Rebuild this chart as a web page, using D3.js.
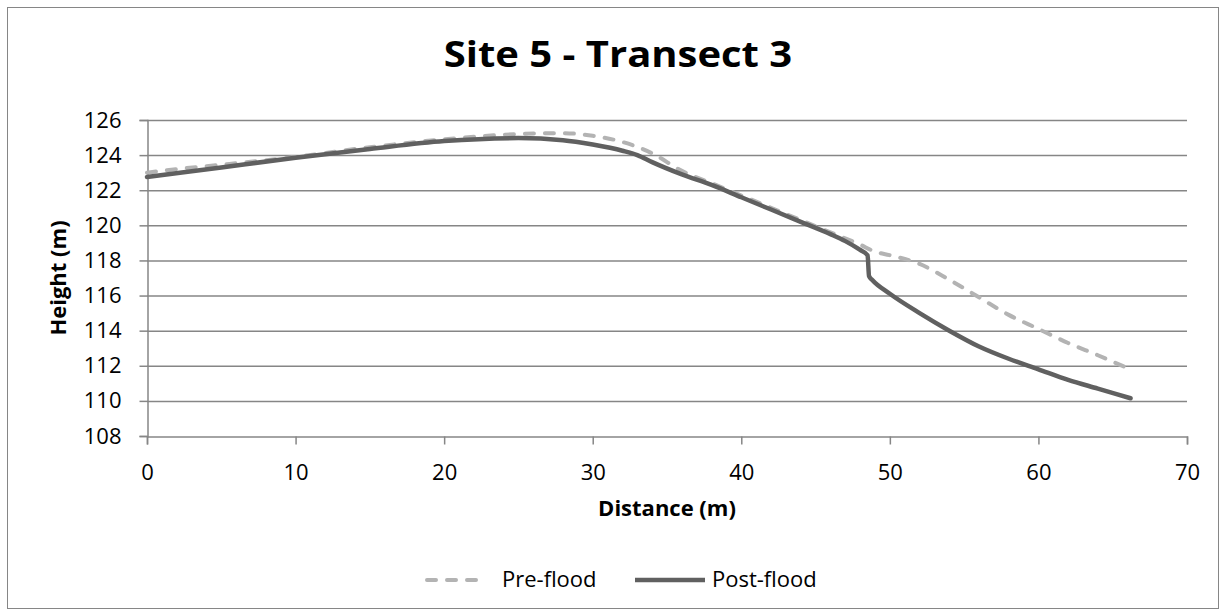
<!DOCTYPE html>
<html><head><meta charset="utf-8">
<script src="https://cdn.jsdelivr.net/npm/d3@7"></script>
<style>body{margin:0;background:#fff;}svg{display:block;font-family:"Open Sans",sans-serif;}</style>
</head><body>
<svg id="c" width="1226" height="616"></svg>
<script>
const title = "Site 5 - Transect 3";
const xLabel = "Distance (m)";
const yLabel = "Height (m)";
const seriesNames = ["Pre-flood", "Post-flood"];
const xTicks = [0,10,20,30,40,50,60,70];
const yTicks = [108,110,112,114,116,118,120,122,124,126];
const preDist = [0,2,5,10,15,20,25,28,30,32,34,36,38,40,42,44,46,48,49,50,52,54,56,58,60,62,64,65.9];
const preHeight = [123.0,123.2,123.45,123.9,124.45,124.9,125.2,125.25,125.1,124.75,124.1,123.1,122.4,121.7,121.0,120.3,119.6,118.9,118.5,118.3,117.8,116.9,115.9,114.9,114.1,113.3,112.6,111.9];
const postDist = [0,5,10,15,20,25,28,30,32,33,34,36,38,40,42,44,46,47,48,48.5,48.6,48.8,50,52,54,56,58,60,62,64,66.2];
const postHeight = [122.75,123.3,123.85,124.35,124.8,124.97,124.85,124.6,124.25,124.0,123.6,122.9,122.3,121.6,120.9,120.2,119.5,119.1,118.6,118.3,117.1,116.9,116.1,115.0,114.0,113.1,112.4,111.8,111.2,110.7,110.15];

const svg = d3.select("#c");
svg.append("rect").attr("x",7.5).attr("y",7.5).attr("width",1211).attr("height",601)
  .attr("fill","#fff").attr("stroke","#868686").attr("stroke-width",1);

const x = d3.scaleLinear().domain([0,70]).range([147,1187]);
const y = d3.scaleLinear().domain([108,126]).range([436,120]);

// gridlines
svg.append("g").selectAll("line").data(yTicks.filter(d=>d>108)).join("line")
  .attr("x1",x(0)).attr("x2",x(70)).attr("y1",d=>y(d)+0.5).attr("y2",d=>y(d)+0.5)
  .attr("stroke","#868686").attr("stroke-width",1.5);

const gx = svg.append("g").attr("transform",`translate(0,${y(108)+0.5})`)
  .call(d3.axisBottom(x).tickValues(xTicks).tickSize(8).tickPadding(20).tickFormat(d3.format("d")));
const gy = svg.append("g").attr("transform",`translate(${x(0)+0.5},0)`)
  .call(d3.axisLeft(y).tickValues(yTicks).tickSize(8).tickPadding(18).tickFormat(d3.format("d")));
[gx,gy].forEach(g=>{
  g.select(".domain").attr("stroke","#868686").attr("stroke-width",1.5);
  g.selectAll(".tick line").attr("stroke","#868686").attr("stroke-width",1.5);
  g.selectAll(".tick text").attr("font-family","Open Sans").attr("font-size",22).attr("fill","#000");
});

const line = d3.line().x(d=>x(d[0])).y(d=>y(d[1])).curve(d3.curveMonotoneX);
const pre = preDist.map((d,i)=>[d,preHeight[i]]);
const post = postDist.map((d,i)=>[d,postHeight[i]]);
svg.append("path").attr("d",line(pre)).attr("fill","none").attr("stroke","#b3b3b3")
  .attr("stroke-width",4).attr("stroke-dasharray","9,11").attr("stroke-linecap","round");
svg.append("path").attr("d",line(post)).attr("fill","none").attr("stroke","#606060")
  .attr("stroke-width",4.5).attr("stroke-linecap","round").attr("stroke-linejoin","round");

svg.append("text").attr("transform","translate(618,67) scale(1,0.88)").attr("text-anchor","middle")
  .attr("font-size",40).attr("font-weight","bold").text(title);
svg.append("text").attr("x",667).attr("y",516).attr("text-anchor","middle")
  .attr("font-size",22).attr("font-weight","bold").text(xLabel);
svg.append("text").attr("transform","translate(66,278) rotate(-90)").attr("text-anchor","middle")
  .attr("font-size",22).attr("font-weight","bold").text(yLabel);

// legend
const lg = svg.append("g");
lg.append("line").attr("x1",427).attr("x2",484).attr("y1",580).attr("y2",580)
  .attr("stroke","#b3b3b3").attr("stroke-width",4).attr("stroke-dasharray","9,11").attr("stroke-linecap","round");
lg.append("text").attr("x",502).attr("y",587).attr("font-size",22).text(seriesNames[0]);
lg.append("line").attr("x1",635).attr("x2",705).attr("y1",580).attr("y2",580)
  .attr("stroke","#606060").attr("stroke-width",4.5);
lg.append("text").attr("x",712).attr("y",587).attr("font-size",22).text(seriesNames[1]);
</script>
</body></html>
